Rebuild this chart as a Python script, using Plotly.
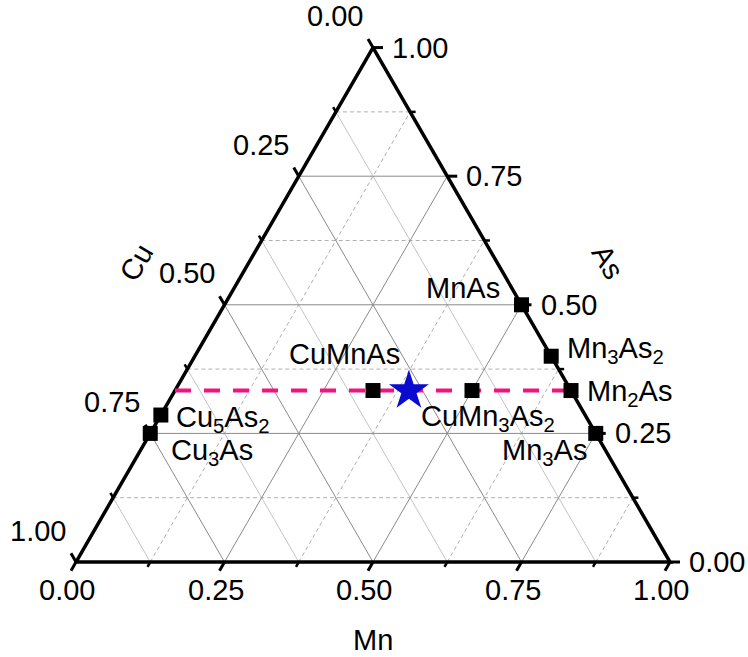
import math
import plotly.graph_objects as go

# ---------------- data ----------------
axis_elements = ["Cu", "Mn", "As"]
tick_values = [0.0, 0.25, 0.5, 0.75, 1.0]
tick_labels = ["0.00", "0.25", "0.50", "0.75", "1.00"]
minor_tick_values = [0.125, 0.375, 0.625, 0.875]
grid_major = [0.25, 0.5, 0.75]
grid_minor = [0.125, 0.375, 0.625, 0.875]

phase_names = ["MnAs", "Mn<sub>3</sub>As<sub>2</sub>", "Mn<sub>2</sub>As", "Mn<sub>3</sub>As",
               "Cu<sub>5</sub>As<sub>2</sub>", "Cu<sub>3</sub>As", "CuMnAs",
               "CuMn<sub>3</sub>As<sub>2</sub>"]
phase_cu = [0.0, 0.0, 0.0, 0.0, 0.7143, 0.75, 0.3333, 0.1667]
phase_mn = [0.5, 0.6, 0.6667, 0.75, 0.0, 0.0, 0.3333, 0.5]
phase_as = [0.5, 0.4, 0.3333, 0.25, 0.2857, 0.25, 0.3333, 0.3333]

star_cu = [0.273]
star_mn = [0.394]
star_as = [0.333]

tie_cu = [0.6667, 0.0]
tie_mn = [0.0, 0.6667]
tie_as = [0.3333, 0.3333]

# ---------------- styles / layout constants ----------------
W, H = 748, 657
PX = 594.0          # pixels per unit side
X0, Y0 = 76.0, 562.0  # pixel position of Cu corner
SQ = math.sqrt(3) / 2
FONT = "Liberation Sans, Arial, sans-serif"
FS = 29

# label offsets (px, x right / y up) relative to markers: (xanchor, xshift, yshift)
label_style = [
    ("right", -20, 17),
    ("left", 14, 6),
    ("left", 14, -2),
    ("right", -7, -19),
    ("left", 13, -4),
    ("left", 19, -19),
    ("right", 29, 37),
    ("left", -53, -27),
]


def to_xy(cu, mn, a):
    s = cu + mn + a
    mn, a = mn / s, a / s
    return mn + a / 2.0, a * SQ


def seg_trace(segs, color, width, dash="solid"):
    xs, ys = [], []
    for (x1, y1), (x2, y2) in segs:
        xs += [x1, x2, None]
        ys += [y1, y2, None]
    return go.Scatter(x=xs, y=ys, mode="lines", hoverinfo="skip",
                      line=dict(color=color, width=width, dash=dash))


fig = go.Figure()

# ---------------- grid ----------------
def grid_lines(vals, element):
    segs = []
    for t in vals:
        if element == "As":
            segs.append((to_xy(1 - t, 0, t), to_xy(0, 1 - t, t)))
        elif element == "Cu":
            segs.append((to_xy(t, 0, 1 - t), to_xy(t, 1 - t, 0)))
        else:  # Mn
            segs.append((to_xy(1 - t, t, 0), to_xy(0, t, 1 - t)))
    return segs

MAJOR_GRID = "#8a8a8a"
fig.add_trace(seg_trace(grid_lines(grid_minor, "Cu"), "#c4c4c4", 1))
fig.add_trace(seg_trace(grid_lines(grid_minor, "As"), "#b0b0b0", 1, "4px,3px"))
fig.add_trace(seg_trace(grid_lines(grid_minor, "Mn"), "#b0b0b0", 1, "4px,3px"))
for el in axis_elements:
    fig.add_trace(seg_trace(grid_lines(grid_major, el), MAJOR_GRID, 1))

# ---------------- triangle ----------------
corners = [to_xy(1, 0, 0), to_xy(0, 1, 0), to_xy(0, 0, 1), to_xy(1, 0, 0)]
fig.add_trace(go.Scatter(x=[c[0] for c in corners], y=[c[1] for c in corners],
                         mode="lines", hoverinfo="skip",
                         line=dict(color="black", width=3.5)))

# ---------------- ticks ----------------
def edge_point(element, t):
    if element == "Cu":
        return to_xy(t, 0, 1 - t)
    if element == "Mn":
        return to_xy(1 - t, t, 0)
    return to_xy(0, 1 - t, t)

tick_dir = {"Cu": (-0.5, SQ), "Mn": (-0.5, -SQ), "As": (1.0, 0.0)}
label_shift = {"Cu": (-38, 31.5), "Mn": (-9, -28), "As": (47, 0)}


def tick_segs(element, vals, length_px):
    dx, dy = tick_dir[element]
    L = length_px / PX
    segs = []
    for t in vals:
        x, y = edge_point(element, t)
        segs.append(((x, y), (x + dx * L, y + dy * L)))
    return segs

for el in axis_elements:
    fig.add_trace(seg_trace(tick_segs(el, tick_values, 10), "black", 3))
    fig.add_trace(seg_trace(tick_segs(el, minor_tick_values, 5.5), "black", 2.5))

annotations = []
for el in axis_elements:
    sx, sy = label_shift[el]
    for t, lab in zip(tick_values, tick_labels):
        x, y = edge_point(el, t)
        annotations.append(dict(x=x, y=y, text=lab, showarrow=False,
                                xanchor="center", yanchor="middle",
                                xshift=sx, yshift=sy,
                                font=dict(family=FONT, size=FS, color="black")))

# axis titles
title_pos = {"Cu": (136, 263, -60), "Mn": (373, 640, 0), "As": (608, 262, 60)}
for el in axis_elements:
    px_, py_, ang = title_pos[el]
    annotations.append(dict(x=px_ / W, y=1 - py_ / H, xref="paper", yref="paper",
                            text=el, showarrow=False, textangle=ang,
                            xanchor="center", yanchor="middle",
                            font=dict(family=FONT, size=FS, color="black")))

# ---------------- tie line ----------------
tie_xy = [to_xy(c, m, a) for c, m, a in zip(tie_cu, tie_mn, tie_as)]
fig.add_trace(go.Scatter(x=[p[0] for p in tie_xy], y=[p[1] for p in tie_xy],
                         mode="lines", hoverinfo="skip",
                         line=dict(color="#f2137f", width=4, dash="16px,13px")))

# ---------------- phases ----------------
ph_xy = [to_xy(c, m, a) for c, m, a in zip(phase_cu, phase_mn, phase_as)]
fig.add_trace(go.Scatter(x=[p[0] for p in ph_xy], y=[p[1] for p in ph_xy],
                         mode="markers", hoverinfo="skip",
                         marker=dict(symbol="square", size=15, color="black",
                                     line=dict(width=0))))
for (x, y), name, (xa, sx, sy) in zip(ph_xy, phase_names, label_style):
    annotations.append(dict(x=x, y=y, text=name, showarrow=False, xanchor=xa,
                            yanchor="middle", xshift=sx, yshift=sy,
                            font=dict(family=FONT, size=FS, color="black")))

st_xy = [to_xy(c, m, a) for c, m, a in zip(star_cu, star_mn, star_as)]
fig.add_trace(go.Scatter(x=[p[0] for p in st_xy], y=[p[1] for p in st_xy],
                         mode="markers", hoverinfo="skip",
                         marker=dict(symbol="star", size=30, color="#0b0bd0",
                                     line=dict(width=0))))

fig.update_layout(
    width=W, height=H, margin=dict(l=0, r=0, t=0, b=0),
    paper_bgcolor="white", plot_bgcolor="white", showlegend=False,
    annotations=annotations, hovermode=False,
    xaxis=dict(range=[-X0 / PX, (W - X0) / PX], visible=False, fixedrange=True),
    yaxis=dict(range=[-(H - Y0) / PX, Y0 / PX], visible=False, fixedrange=True),
)

fig.write_html("out.html")
